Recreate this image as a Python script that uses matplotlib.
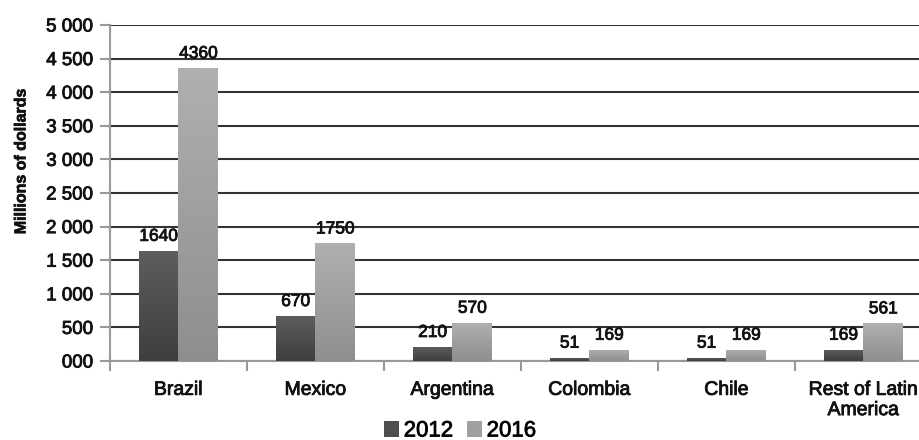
import matplotlib
matplotlib.use("Agg")
import matplotlib.pyplot as plt
import matplotlib.patheffects as pe
import numpy as np
from matplotlib.colors import LinearSegmentedColormap

categories = ["Brazil", "Mexico", "Argentina", "Colombia", "Chile", "Rest of Latin\nAmerica"]
values_2012 = [1640, 670, 210, 51, 51, 169]
values_2016 = [4360, 1750, 570, 169, 169, 561]
series_names = ["2012", "2016"]
yticks = [0, 500, 1000, 1500, 2000, 2500, 3000, 3500, 4000, 4500, 5000]
ytick_labels = ["000", "500", "1 000", "1 500", "2 000", "2 500", "3 000", "3 500", "4 000", "4 500", "5 000"]

plt.rcParams['font.family'] = ['Liberation Sans', 'DejaVu Sans']
heavy = [pe.withStroke(linewidth=0.6, foreground="#111111")]

fig = plt.figure(figsize=(9.2, 4.4), dpi=100)
ax = fig.add_axes([110/920, 1 - 361/440, 822/920, 336/440])

x = np.arange(len(categories))
w = 0.29
cmap_dark = LinearSegmentedColormap.from_list("d", ["#3e3e3e", "#5e5e5e"])
cmap_light = LinearSegmentedColormap.from_list("l", ["#8e8e8e", "#b0b0b0"])

bars1 = ax.bar(x - w/2, values_2012, w, color="#4e4e4e", zorder=2, label=series_names[0])
bars2 = ax.bar(x + w/2, values_2016, w, color="#a0a0a0", zorder=2, label=series_names[1])

grad = np.linspace(0, 1, 256).reshape(-1, 1)
for bars, cm in ((bars1, cmap_dark), (bars2, cmap_light)):
    for p in bars:
        x0, y0 = p.get_x(), p.get_y()
        x1, y1 = x0 + p.get_width(), y0 + p.get_height()
        im = ax.imshow(grad, extent=[x0, x1, y0, y1], origin="lower", cmap=cm,
                       aspect="auto", zorder=3, interpolation="bilinear")
        im.set_clip_path(p)

for bars, vals in ((bars1, values_2012), (bars2, values_2016)):
    for p, v in zip(bars, vals):
        ax.annotate(str(v), (p.get_x() + p.get_width()/2, v), xytext=(0, 5),
                    textcoords="offset points", ha="center", va="bottom",
                    fontsize=12.5, color="#111111", zorder=5, path_effects=heavy)

ax.set_xlim(-0.5, len(categories) - 0.5)
ax.set_ylim(0, 5000)
ax.set_yticks(yticks)
ax.set_yticklabels(ytick_labels, fontsize=13.5, color="#111111")
ax.yaxis.grid(True, color="#333333", linewidth=1.5, zorder=1)
ax.set_axisbelow(True)

ax.set_xticks(x)
ax.set_xticklabels(categories, fontsize=14, color="#111111", linespacing=1.25)
ax.set_xticks(np.arange(len(categories) + 1) - 0.5, minor=True)
ax.tick_params(axis="x", which="major", length=0, pad=15)
ax.tick_params(axis="x", which="minor", length=7, width=1.5, color="#999999", direction="out")
ax.tick_params(axis="y", length=7, width=1.5, color="#999999", pad=5)
for t in ax.get_xticklabels() + ax.get_yticklabels():
    t.set_path_effects(heavy)

for s in ("top", "right"):
    ax.spines[s].set_visible(False)
for s in ("left", "bottom"):
    ax.spines[s].set_color("#999999")
    ax.spines[s].set_linewidth(1.5)

fig.text(21/920, 1 - 161/440, "Millions of dollards", rotation=90, ha="center", va="center",
         fontsize=11.5, fontweight="bold", color="#111111",
         path_effects=[pe.withStroke(linewidth=0.5, foreground="#111111")])

leg = fig.legend(handles=[bars1, bars2], labels=series_names, loc="center",
                 bbox_to_anchor=(460/920, 1 - 431/440), ncol=2, frameon=False,
                 fontsize=16, handlelength=0.7, handleheight=0.7, handletextpad=0.2,
                 columnspacing=0.6, borderpad=0)
for t in leg.get_texts():
    t.set_path_effects(heavy)

fig.savefig("out.png", dpi=100)
